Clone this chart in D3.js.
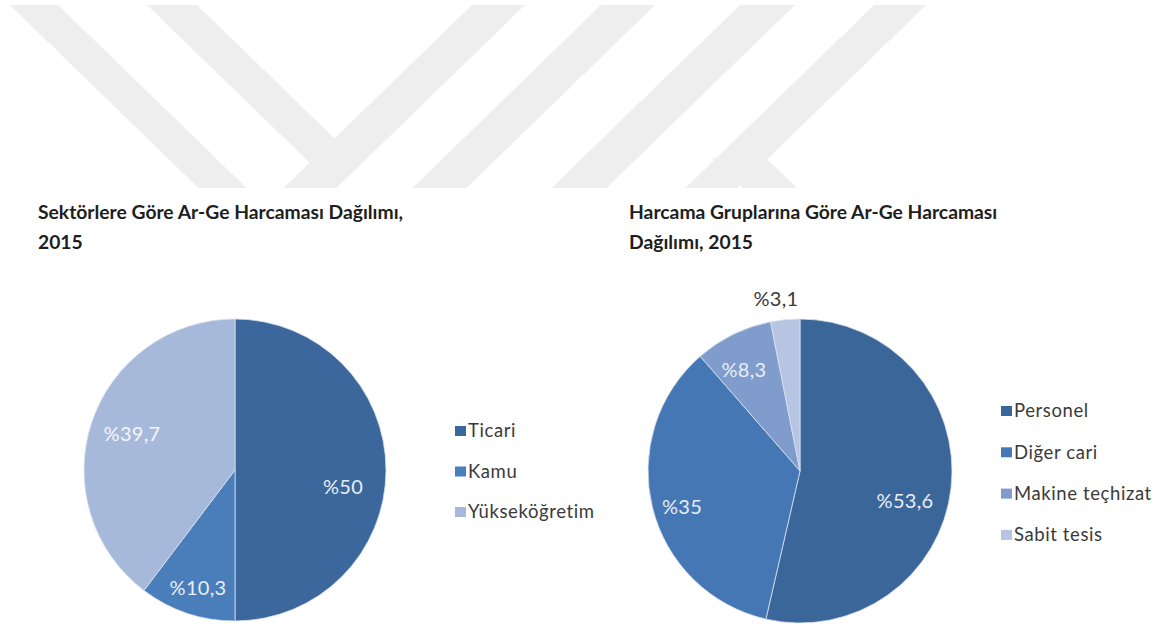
<!DOCTYPE html>
<html lang="tr">
<head>
<meta charset="UTF-8">
<title>Ar-Ge Harcaması Dağılımı, 2015</title>
<script src="https://d3js.org/d3.v7.min.js"></script>
<style>
body { margin: 0; background: #fff; }
svg { display: block; font-family: Lato, "Noto Sans", sans-serif; }
.title { font-size: 19.3px; font-weight: bold; fill: #1e1e1e; }
.legend text { font-size: 18.5px; letter-spacing: 0.6px; fill: #3a3a3a; }
.label { font-size: 20px; letter-spacing: 0.3px; }
</style>
</head>
<body>
<svg id="chart" width="1161" height="634"></svg>
<script>
// veriler
const sektorLabels = ["Ticari", "Kamu", "Yükseköğretim"];
const sektorValues = [50, 10.3, 39.7];
const sektorText = ["%50", "%10,3", "%39,7"];
const sektorColors = ["#3c679c", "#4a7ebb", "#a7b9da"];

const grupLabels = ["Personel", "Diğer cari", "Makine teçhizat", "Sabit tesis"];
const grupValues = [53.6, 35, 8.3, 3.1];
const grupText = ["%53,6", "%35", "%8,3", "%3,1"];
const grupColors = ["#3b669a", "#4677b5", "#7f9ccc", "#b7c5e2"];

const width = 1161, height = 634;
const svg = d3.select("#chart");

// arka plandaki filigran (açık gri şeritler)
const wm = svg.append("g").attr("fill", "#eeeeee");
const y0 = 5, y1 = 188, k = 1.03;
const down = (xl, xr) => [[xl, y0], [xr, y0], [xr + k * (y1 - y0), y1], [xl + k * (y1 - y0), y1]];
const up = (xl, xr) => [[xl, y0], [xr, y0], [xr - k * (y1 - y0), y1], [xl - k * (y1 - y0), y1]];
const vy = 163; // V'nin sol kolunun kesildiği yer
const shapes = [
    down(10, 58),
    [[147, y0], [197, y0], [334.5, 138.5], [310, vy]],
    up(472, 525),
    up(601, 655),
    up(740, 795),
    up(874, 926),
    [[712, 158], [766, 158], [797, y1], [743, y1]]
];
wm.selectAll("polygon").data(shapes).join("polygon")
    .attr("points", d => d.map(p => p.join(",")).join(" "));

function drawPie(cfg) {
    const g = svg.append("g").attr("transform", `translate(${cfg.cx},${cfg.cy})`);
    const pie = d3.pie().sort(null).value(d => d)(cfg.values);
    const arc = d3.arc().innerRadius(0).outerRadius(cfg.r);

    g.selectAll("path").data(pie).join("path")
        .attr("d", arc)
        .attr("fill", (d, i) => cfg.colors[i])
        .attr("stroke", "#d8e1ee")
        .attr("stroke-width", 0.8);

    // etiketler (konumlar pasta merkezine göre)
    g.selectAll("text").data(pie).join("text")
        .attr("class", "label")
        .attr("text-anchor", "middle")
        .attr("dominant-baseline", "central")
        .attr("x", (d, i) => cfg.labelPos[i][0] - cfg.cx)
        .attr("y", (d, i) => cfg.labelPos[i][1] - cfg.cy)
        .attr("fill", (d, i) => cfg.labelColor[i])
        .text((d, i) => cfg.text[i]);

    const t = svg.append("text").attr("class", "title");
    cfg.title.forEach((line, i) => {
        t.append("tspan").attr("x", cfg.titleX).attr("y", 219 + i * 30).text(line);
    });

    const lg = svg.append("g").attr("class", "legend");
    const items = lg.selectAll("g").data(cfg.labels).join("g")
        .attr("transform", (d, i) => `translate(${cfg.legX},${cfg.legY + i * cfg.legStep})`);
    items.append("rect").attr("x", 0).attr("y", -5).attr("width", 11).attr("height", 10)
        .attr("fill", (d, i) => cfg.colors[i]);
    items.append("text").attr("x", 13).attr("dy", "0.35em").text(d => d);
}

drawPie({
    cx: 235, cy: 470, r: 151,
    values: sektorValues, colors: sektorColors, labels: sektorLabels, text: sektorText,
    labelPos: [[343, 486], [198, 587], [132, 433]],
    labelColor: ["#e8eef7", "#e8eef7", "#f4f6fb"],
    title: ["Sektörlere Göre Ar-Ge Harcaması Dağılımı,", "2015"], titleX: 38,
    legX: 455, legY: 431, legStep: 40.5
});

drawPie({
    cx: 800, cy: 471, r: 152,
    values: grupValues, colors: grupColors, labels: grupLabels, text: grupText,
    labelPos: [[905, 500], [682, 506], [744, 369], [776, 298]],
    labelColor: ["#e8eef7", "#e8eef7", "#e8eef7", "#3a3a3a"],
    title: ["Harcama Gruplarına Göre Ar-Ge Harcaması", "Dağılımı, 2015"], titleX: 629,
    legX: 1001, legY: 411, legStep: 41.3
});
</script>
</body>
</html>
